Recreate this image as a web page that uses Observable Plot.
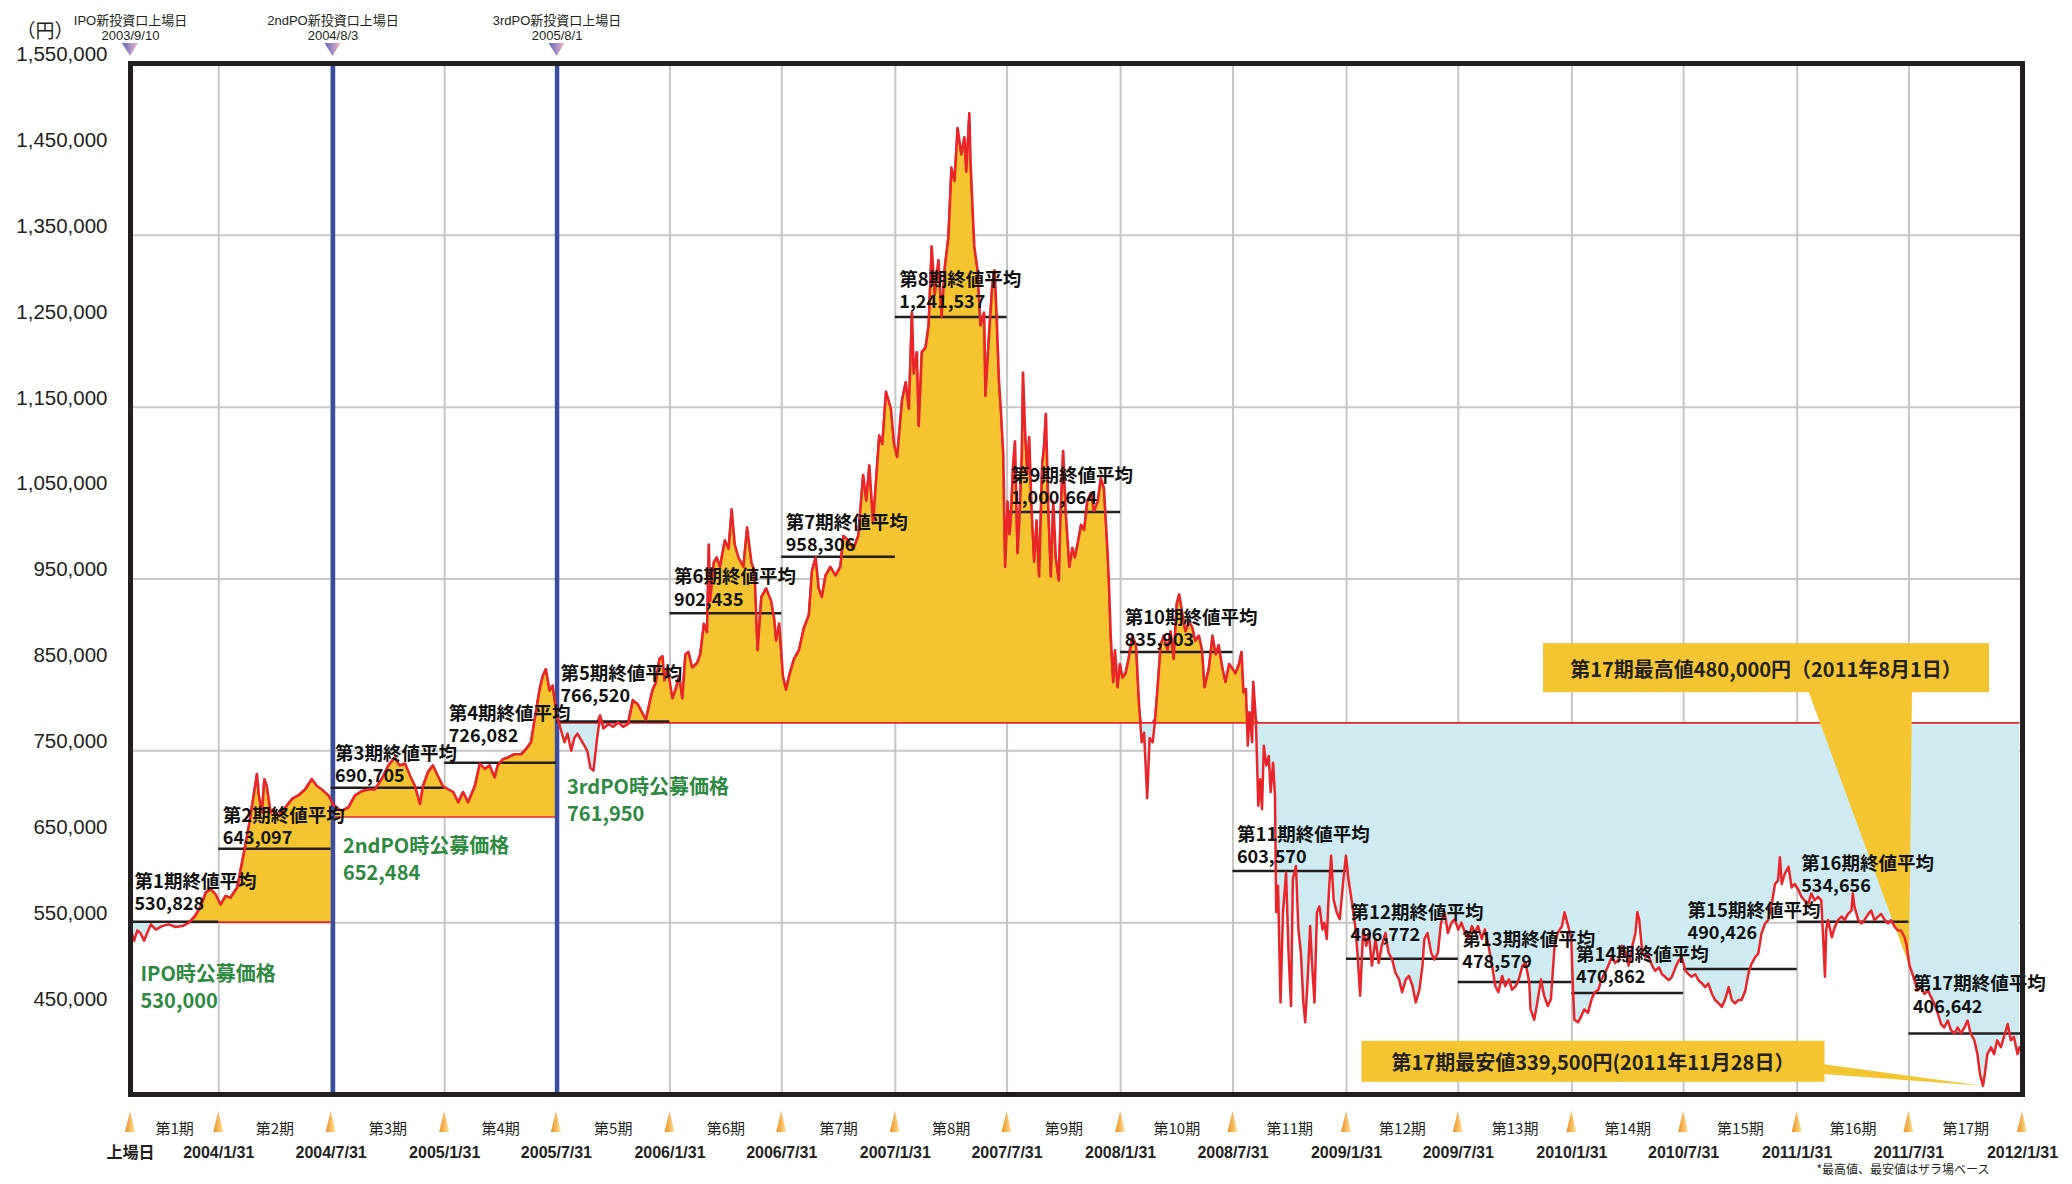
<!DOCTYPE html>
<html><head><meta charset="utf-8">
<script src="https://cdn.jsdelivr.net/npm/d3@7"></script>
<script src="https://cdn.jsdelivr.net/npm/@observablehq/plot@0.6"></script>
<style>
html,body{margin:0;padding:0;background:#fff;}
#chart svg{display:block;}
</style>
</head><body><div id="chart"></div>
<script>
// ---------------- data ----------------
const listingDate = "2003-09-10";
// days since listing (x) and closing price in thousand yen (y)
const priceDay = [0,6,11,16,22,27,33,41,51,62,73,84,95,105,114,122,130,138,146,154,162,173,184,192,197,205,208,213,217,221,227,232,240,251,262,272,283,294,302,310,321,328,
334,342,353,364,375,385,396,407,418,428,436,445,453,461,469,474,482,490,498,506,515,523,531,539,547,558,566,574,582,590,595,603,611,622,633,641,649,654,663,668,673,679,684,689,691,
697,703,708,714,719,724,732,740,745,750,756,761,766,774,782,790,798,806,814,822,830,835,841,846,851,857,862,865,870,878,883,889,894,899,904,910,918,923,929,934,937,939,945,950,955,963,969,974,979,985,993,999,1006,1011,1016,1022,1030,1038,1043,1046,1051,1057,1062,1067,1075,1083,1091,1099,1104,1110,1115,1120,1126,1134,1142,1150,1155,1163,1171,1179,1187,1192,1197,1203,1208,1213,1218,1224,1232,1237,1242,1250,1256,1261,1266,1269,1274,1277,1282,1288,1293,1298,1303,1309,1314,1319,1325,1330,1335,1340,1346,1351,1354,1359,1361,1367,1372,1377,1383,1385,1391,1396,
1400,1403,1407,1410,1414,1417,1421,1424,1426,1430,1433,1437,1440,1444,1446,1449,1453,1456,1460,1464,1468,1472,1477,1480,1483,1487,1491,1495,1499,1504,1507,1511,1515,1521,1526,1530,1536,1540,1545,1550,1556,1561,1567,1572,1577,1583,1585,1588,1592,1595,1599,1603,1607,1612,1617,1623,1629,1634,1638,1642,1647,1651,1656,1660,1664,1669,1674,1680,1685,1690,1695,1699,1704,1709,1715,1720,1725,1731,1736,1740,1747,1753,1758,1763,1769,1774,1780,1785,1790,1796,
1800,1803,1807,1810,1813,1817,1819,1823,1827,1830,1833,1836,1840,1844,1847,1851,1854,1856,1859,1863,1867,1872,1876,1880,1883,1888,1892,1896,1900,1903,1907,1911,1914,1918,1922,1926,1931,1934,1938,1941,1945,1949,1954,1959,1965,1969,1973,1978,1984,1988,1992,1997,2002,2006,2011,2017,2022,2027,2033,2038,2044,2049,2055,2060,2066,2071,2077,2082,2088,2093,2096,2101,2107,2112,2118,2123,2129,2134,2140,2145,2151,2156,2162,2167,2173,2178,2183,2189,2194,2200,2205,2211,2216,2222,2227,2233,2238,2244,2249,2255,2260,2266,2268,2274,2279,2285,2290,2296,2301,2307,2312,2319,2323,2329,2334,2337,2339,2345,2350,2355,2361,2367,2372,2378,2383,2389,2394,2400,2405,2411,2416,2422,2427,2433,2438,2441,2444,
2449,2454,2459,2465,2470,2476,2481,2486,2492,2497,2503,2508,2513,2519,2524,2529,2535,2540,2546,2551,2556,2562,2567,2573,2578,2583,2589,2594,2599,2605,2610,2616,2621,2626,2632,2637,2642,2648,2653,2659,2664,2669,2672,2675,2680,2686,2691,2696,2702,2707,2712,2718,2723,2728,2734,2739,2742,2745,2747,2750,2756,2761,2766,2772,2777,2782,2788,2790,2793,2799,2804,2809,2815,2820,2825,2831,2836,2842,2847,2852,2858,2863,2868,2874,2877,2882,2885,2890,2895,2901,2906,2912,2917,2922,2928,2933,2938,2944,2949,2955,2960,2965,2971,2976,2981,2987,2992,2996,3001,3004,3008,3014,3019,3024,3030,3035,3041,3046,3051,3057,3060];
const priceThousandYen = [522,509,521,518,509,518,528,522,526,528,525,526,530,538,549,565,569,563,551,561,559,571,612,643,666,703,678,658,697,689,658,662,654,664,674,678,685,697,689,685,678,668,
664,660,664,678,683,685,685,697,713,722,713,715,701,689,668,689,705,713,701,689,685,682,670,682,670,689,715,709,713,699,713,720,722,726,726,732,740,763,802,817,825,800,806,779,770,
755,740,750,730,745,750,740,730,710,707,745,771,756,761,758,763,758,761,789,784,773,766,786,801,809,837,840,812,827,791,801,817,791,842,845,827,832,842,878,868,970,904,949,955,944,975,965,1011,970,955,944,990,949,939,847,909,919,904,883,858,878,817,801,817,837,847,873,888,939,955,919,909,934,944,934,944,980,975,965,980,1051,1021,1062,995,1046,1097,1087,1148,1128,1087,1072,1138,1159,1128,1240,1169,1194,1108,1194,1199,1225,1317,1261,1301,1235,1291,1327,1409,1393,1455,1424,1444,1404,1472,1414,1317,1291,1225,1240,1143,1215,1271,
1289,1240,1160,1127,1074,944,1020,982,998,1063,1090,960,998,1073,1170,1106,1052,1095,1009,950,998,933,1063,1084,1122,1009,933,1020,955,928,1009,1079,1009,944,966,955,977,993,987,1020,1030,1009,1020,1047,1036,960,928,864,810,847,804,831,815,820,837,864,853,783,740,751,675,745,740,767,804,853,864,847,869,837,901,912,890,869,880,874,858,864,847,804,826,864,842,853,826,810,831,826,820,831,
845,798,802,736,775,740,810,767,666,697,662,736,713,724,682,716,678,542,573,437,542,588,495,433,581,596,522,495,437,414,464,526,483,437,542,549,522,530,511,561,608,557,542,534,581,608,581,557,526,491,445,522,503,518,480,511,483,503,518,495,487,472,464,449,464,468,456,437,452,480,511,518,495,487,495,530,542,518,530,534,522,530,518,511,526,518,526,511,522,503,483,456,449,468,456,464,452,456,464,480,483,460,429,417,437,464,445,433,441,503,518,526,542,526,511,449,417,414,421,429,425,441,449,452,464,472,480,491,483,487,503,495,480,503,518,542,534,
495,490,492,480,474,478,470,467,463,467,478,486,490,474,470,467,470,463,459,455,459,447,440,436,432,440,455,440,436,440,440,451,471,482,490,494,517,529,533,552,575,579,606,575,587,595,571,575,568,560,556,552,564,556,560,556,513,467,521,533,513,525,533,537,533,540,544,564,548,533,529,533,540,544,533,537,540,533,529,533,525,521,521,513,505,480,474,463,451,455,447,451,443,436,424,412,408,416,405,401,408,401,408,416,401,393,377,354,340,354,377,385,377,393,385,397,412,393,397,377,385];

// offering (base) prices and their periods
const baseStart = ["2003-09-10", "2004-08-03", "2005-08-01"];
const baseEnd   = ["2004-08-03", "2005-08-01", "2012-01-31"];
const basePrice = [530000, 652484, 761950];
const baseLabel = ["IPO時公募価格", "2ndPO時公募価格", "3rdPO時公募価格"];

// listing markers at the top
const listingNames = ["IPO新投資口上場日", "2ndPO新投資口上場日", "3rdPO新投資口上場日"];
const listingDateLabels = ["2003/9/10", "2004/8/3", "2005/8/1"];

// fiscal periods
const periodNames = ["第1期","第2期","第3期","第4期","第5期","第6期","第7期","第8期","第9期","第10期","第11期","第12期","第13期","第14期","第15期","第16期","第17期"];
const periodEnds = ["2004-01-31","2004-07-31","2005-01-31","2005-07-31","2006-01-31","2006-07-31","2007-01-31","2007-07-31","2008-01-31","2008-07-31","2009-01-31","2009-07-31","2010-01-31","2010-07-31","2011-01-31","2011-07-31","2012-01-31"];
const periodEndLabels = ["2004/1/31","2004/7/31","2005/1/31","2005/7/31","2006/1/31","2006/7/31","2007/1/31","2007/7/31","2008/1/31","2008/7/31","2009/1/31","2009/7/31","2010/1/31","2010/7/31","2011/1/31","2011/7/31","2012/1/31"];
// average close as labelled
const periodAvg = [530828, 643097, 690705, 726082, 766520, 902435, 958306, 1241537, 1000664, 835903, 603570, 496772, 478579, 470862, 490426, 534656, 406642];
// level at which each average bar is actually drawn in the picture
const periodAvgBarLevel = [531000, 616000, 687000, 716000, 764000, 890000, 956000, 1235000, 1008000, 845000, 590000, 488000, 461000, 448000, 476000, 531000, 401000];

// axis
const yTicks = [1550000,1450000,1350000,1250000,1150000,1050000,950000,850000,750000,650000,550000,450000];
const gridValues = [530000, 730000, 930000, 1130000, 1330000];

// 17th period extremes
const highDate = "2011-08-01", highValue = 480000, highText = "第17期最高値480,000円（2011年8月1日）";
const lowDate = "2011-11-28", lowValue = 339500, lowText = "第17期最安値339,500円(2011年11月28日）";
const footnote = "*最高値、最安値はザラ場ベース";

// ---------------- styling ----------------
const JP = "'Noto Sans CJK JP', 'Noto Sans', sans-serif";
const NUM = "'Liberation Sans', Arial, sans-serif";
const NARROW = "'Liberation Sans Narrow', 'Liberation Sans', 'Noto Sans CJK JP', sans-serif";
const YELLOW = "#f4c531", RED = "#e8262a", BLUE_FILL = "#cdebf0", GREEN = "#2b8a3e", INK = "#231f20";
const greenDy = [52, 29, 64];                 // px offsets of the offering-price labels
const avgTitleDy = [-40,-33,-34,-49,-48,-36,-34,-37,-36,-34,-36,-46,-42,-38,-58,-58,-49]; // px lift of period labels

// ---------------- build ----------------
const parse = d3.utcParse("%Y-%m-%d");
const fmt = d3.format(",");
const t0 = parse(listingDate);
const priceRows = priceDay.map((d, i) => ({date: d3.utcDay.offset(t0, d), price: priceThousandYen[i] * 1000}));
const segRows = [];
basePrice.forEach((b, i) => {
  const s = parse(baseStart[i]), e = parse(baseEnd[i]);
  priceRows.filter(r => r.date >= s && r.date <= e).forEach(r => segRows.push({...r, base: b, seg: i}));
});
const periodStarts = [listingDate, ...periodEnds.slice(0, -1)];
const periods = periodNames.map((name, i) => {
  const s = parse(periodStarts[i]), e = parse(periodEnds[i]);
  return {i, name, start: s, end: e, mid: new Date((+s + +e) / 2), avg: periodAvg[i], bar: periodAvgBarLevel[i]};
});
const boundaryRows = [{date: t0, label: "上場日"}, ...periodEnds.map((d, i) => ({date: parse(d), label: periodEndLabels[i]}))];
const baseRows = basePrice.map((v, i) => ({date: parse(baseStart[i]), value: v, label: baseLabel[i]}));
const listingRows = baseStart.map((d, i) => ({date: parse(d), name: listingNames[i], label: listingDateLabels[i]}));

const plot = Plot.plot({
  width: 2072, height: 1184,
  marginLeft: 130, marginRight: 50, marginTop: 63, marginBottom: 90,
  x: {type: "utc", domain: [t0, parse("2012-01-31")], axis: null},
  y: {type: "linear", domain: [330000, 1530000]},
  style: {fontFamily: JP, background: "#fff", color: INK},
  marks: [
    Plot.ruleX(periodEnds.slice(0, -1).map(parse), {stroke: "#c6c6c6", strokeWidth: 2}),
    Plot.ruleY(gridValues, {stroke: "#c6c6c6", strokeWidth: 2}),
    Plot.areaY(segRows, {x: "date", y1: d => Math.min(d.price, d.base), y2: "base", z: "seg", fill: BLUE_FILL}),
    Plot.areaY(segRows, {x: "date", y1: "base", y2: d => Math.max(d.price, d.base), z: "seg", fill: YELLOW, stroke: RED, strokeWidth: 1.6}),
    Plot.ruleX(baseStart.slice(1).map(parse), {stroke: "#3a4ea2", strokeWidth: 4.5}),
    Plot.ruleY(periods, {x1: "start", x2: "end", y: "bar", stroke: INK, strokeWidth: 2.5}),
    Plot.line(priceRows, {x: "date", y: "price", stroke: RED, strokeWidth: 2.5, strokeLinejoin: "round"}),
    ...periods.flatMap(p => [
      Plot.text([p], {x: "start", y: "bar", text: d => d.name + "終値平均", textAnchor: "start", dx: 4, dy: avgTitleDy[p.i], fontSize: 18.5, fontWeight: "bold", fill: "#111"}),
      Plot.text([p], {x: "start", y: "bar", text: d => fmt(d.avg), textAnchor: "start", dx: 4, dy: avgTitleDy[p.i] + 22.5, fontSize: 18, fontWeight: "bold", fill: "#111"})
    ]),
    ...baseRows.flatMap((r, i) => [
      Plot.text([r], {x: "date", y: "value", text: "label", textAnchor: "start", dx: 10, dy: greenDy[i], fontSize: 20, fontWeight: "bold", fill: GREEN}),
      Plot.text([r], {x: "date", y: "value", text: d => fmt(d.value), textAnchor: "start", dx: 10, dy: greenDy[i] + 27, fontSize: 20, fontWeight: "bold", fill: GREEN})
    ]),
    Plot.frame({stroke: INK, strokeWidth: 5}),
    Plot.axisY(yTicks, {tickSize: 0, tickPadding: 23, tickFormat: fmt, fontSize: 20.5, fontFamily: NUM, label: null, fill: INK, dy: 8}),
    Plot.text(periods, {x: "mid", frameAnchor: "bottom", dy: 39, text: "name", fontSize: 15, fill: INK}),
    Plot.text(boundaryRows, {x: "date", frameAnchor: "bottom", dy: 63, text: "label", fontSize: 16, fontWeight: "bold", fontFamily: NARROW, fill: INK}),
    Plot.text(listingRows, {x: "date", frameAnchor: "top", dy: -48, text: "name", fontSize: 13, fontFamily: NARROW, fill: INK}),
    Plot.text(listingRows, {x: "date", frameAnchor: "top", dy: -33, text: "label", fontSize: 13, fontFamily: NARROW, fill: INK}),
    Plot.text(["（円）"], {frameAnchor: "top-left", dx: -114, dy: -39, textAnchor: "start", fontSize: 19, fill: INK}),
    Plot.text([footnote], {frameAnchor: "bottom-right", dx: -33, dy: 79, textAnchor: "end", fontSize: 12, fill: INK})
  ]
});
document.getElementById("chart").append(plot);

// ---------- decorations positioned through the plot's scales ----------
const xs = plot.scale("x"), ys = plot.scale("y");
const svg = d3.select(plot);
const defs = svg.append("defs");
const og = defs.append("linearGradient").attr("id", "triOrange").attr("x1", 0).attr("x2", 1).attr("y1", 0).attr("y2", 0);
og.append("stop").attr("offset", 0).attr("stop-color", "#f08a1c");
og.append("stop").attr("offset", 1).attr("stop-color", "#fde59a");
const bg = defs.append("linearGradient").attr("id", "triBlue").attr("x1", 0).attr("x2", 1).attr("y1", 0).attr("y2", 0);
bg.append("stop").attr("offset", 0).attr("stop-color", "#5566c0");
bg.append("stop").attr("offset", 1).attr("stop-color", "#f7b9c6");

const frameBottom = 1184 - 90, frameTop = 63;
const deco = svg.append("g");
boundaryRows.forEach(r => {
  const x = xs.apply(r.date);
  deco.append("path").attr("d", `M${x},${frameBottom + 17}L${x + 5},${frameBottom + 38}L${x - 5},${frameBottom + 38}Z`).attr("fill", "url(#triOrange)");
});
listingRows.forEach(r => {
  const x = xs.apply(r.date);
  deco.append("path").attr("d", `M${x - 8},${frameTop - 20}L${x + 8},${frameTop - 20}L${x},${frameTop - 7}Z`).attr("fill", "url(#triBlue)");
});

// callouts: placed just above the filled areas, beneath lines and labels
const areaGroups = plot.querySelectorAll('g[aria-label="area"]');
const callout = document.createElementNS("http://www.w3.org/2000/svg", "g");
areaGroups[areaGroups.length - 1].after(callout);
const cg = d3.select(callout);

const hx = xs.apply(parse(highDate)), hy = ys.apply(highValue);
cg.append("path").attr("d", `M${hx - 101},${hy - 275}L${hx + 3},${hy - 275}L${hx},${hy}Z`).attr("fill", YELLOW);
cg.append("rect").attr("x", hx - 366).attr("y", hy - 322).attr("width", 446).attr("height", 49).attr("fill", YELLOW);
cg.append("text").attr("x", hx - 366 + 223).attr("y", hy - 322 + 25).attr("text-anchor", "middle").attr("dominant-baseline", "central")
  .attr("font-family", JP).attr("font-weight", "bold").attr("font-size", 20).attr("fill", INK).text(highText);

const lx = xs.apply(parse(lowDate)), ly = ys.apply(lowValue);
const bx2 = lx - 621, by2 = ly - 45, bw2 = 463, bh2 = 41;
cg.append("path").attr("d", `M${bx2 + bw2 - 1},${by2 + bh2 * 0.57}L${bx2 + bw2 - 1},${by2 + bh2 * 0.81}L${lx},${ly}Z`).attr("fill", YELLOW);
cg.append("rect").attr("x", bx2).attr("y", by2).attr("width", bw2).attr("height", bh2).attr("fill", YELLOW);
cg.append("text").attr("x", bx2 + bw2 / 2).attr("y", by2 + bh2 / 2).attr("text-anchor", "middle").attr("dominant-baseline", "central")
  .attr("font-family", JP).attr("font-weight", "bold").attr("font-size", 20).attr("fill", INK).text(lowText);
</script>
</body></html>
